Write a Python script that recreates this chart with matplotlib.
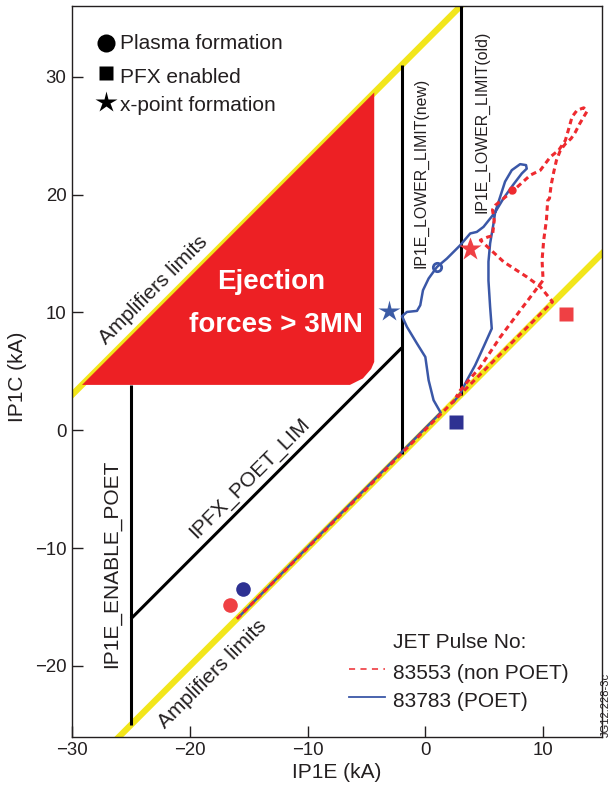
#!/usr/bin/env python3
"""Operating space of the PF amplifiers: IP1C vs IP1E, JET pulses 83553 / 83783."""
import matplotlib
matplotlib.use("Agg")
import matplotlib.pyplot as plt
from matplotlib import font_manager
from matplotlib.patches import Polygon

plt.rcParams['font.family'] = ['Liberation Sans', 'DejaVu Sans']

# --- data (kA) -------------------------------------------------------------
# 83783 (POET), blue solid trace
poet_x = [-15.8, 1.3, 0.7, 0.28, 0.0, -0.71, -1.56, -1.98, -1.56, -0.71, -0.43,
          -0.2, 0.28, 0.99, 1.83, 2.96, 3.81, 4.37, 4.94, 5.93, 6.35, 6.77, 7.34,
          8.05, 8.55, 8.61, 8.19, 7.48, 6.63, 5.93, 5.79, 5.5, 5.36, 5.36, 5.5,
          5.64, 4.94, 4.23, 3.53, 2.96, 2.4]
poet_y = [-15.8, 1.5, 2.55, 4.24, 6.22, 7.36, 8.77, 9.68, 10.04, 10.13, 10.61,
          11.88, 12.88, 13.86, 14.57, 15.7, 16.7, 16.83, 17.26, 18.5, 19.8, 21.1,
          22.07, 22.58, 22.5, 22.2, 21.79, 20.86, 19.67, 18.5, 17.55, 15.85,
          14.3, 12.7, 10.47, 8.63, 7.07, 5.52, 4.24, 3.11, 2.4]

# 83553 (non POET), red dashed trace
nonpoet_x = [-16.0, 10.8, 9.77, 8.64, 6.65, 4.67, 5.3, 5.7, 5.85, 5.7, 5.95, 7.5,
             8.92, 9.77, 10.62, 11.33, 11.89, 12.18, 12.46, 12.89, 13.45, 13.74,
             13.45, 13.1, 12.74, 12.38, 11.89, 11.47, 11.13, 10.9, 10.68, 10.54,
             10.39, 10.28, 10.05, 9.91, 10.0, 8.07, 6.37, 4.67, 3.68, 2.97, 2.6]
nonpoet_y = [-16.0, 10.9, 12.17, 13.0, 14.29, 16.13, 16.4, 16.5, 17.8, 18.7, 19.1,
             20.37, 21.65, 22.07, 23.2, 23.77, 24.6, 25.6, 26.6, 27.16, 27.36,
             27.08, 26.6, 26.0, 25.3, 24.76, 24.3, 23.77, 22.9, 21.9, 20.8, 19.67,
             19.5, 17.83, 16.13, 14.43, 12.73, 10.19, 7.92, 5.37, 4.24, 3.4, 2.8]

# events: plasma formation, PFX enabled, x-point formation
poet_events_x = [-15.44, 2.63, -3.12]
poet_events_y = [-13.44, 0.7, 10.13]
nonpoet_events_x = [-16.57, 11.95, 3.77]
nonpoet_events_y = [-14.86, 9.85, 15.34]

# limits
amp_lower_x = [-31, 16]
amp_lower_y = [-31, 16]
amp_upper_x = [-31, 4]
amp_upper_y = [2, 37]
ejection_x = [-29.15, -4.34, -4.34, -4.6, -5.3, -6.4]
ejection_y = [3.85, 28.66, 5.8, 5.2, 4.4, 3.85]
enable_poet_x = [-25, -25]
enable_poet_y = [-25, 3.85]
ipfx_lim_x = [-25, -2]
ipfx_lim_y = [-16, 7]
lower_new_x = [-2, -2]
lower_new_y = [-2, 31]
lower_old_x = [3, 3]
lower_old_y = [3, 36]

BLUE = '#3a57a7'
NAVY = '#2e3192'
RED = '#ee2a2f'
RED_MK = '#ef4044'
YELLOW = '#f2e61b'
BLACK = '#231f20'


def ejection_font():
    """Condensed bold if installed, otherwise plain bold at a smaller size."""
    names = {f.name for f in font_manager.fontManager.ttflist}
    if 'Liberation Sans Narrow' in names:
        return ['Liberation Sans Narrow'], 24
    return ['Liberation Sans'], 20


def main():
    fig = plt.figure(figsize=(6.12, 7.9), dpi=100)
    ax = fig.add_axes([72 / 612, 53.3 / 790, 530 / 612, 730.7 / 790])

    # amplifier limits (yellow)
    ax.plot(amp_lower_x, amp_lower_y, color=YELLOW, lw=4.5, solid_capstyle='butt', zorder=1)
    ax.plot(amp_upper_x, amp_upper_y, color=YELLOW, lw=4.5, solid_capstyle='butt', zorder=1)

    # ejection forces region
    ax.add_patch(Polygon(list(zip(ejection_x, ejection_y)), closed=True,
                         facecolor='#ed2024', edgecolor='none', zorder=2))
    fam, fs = ejection_font()
    ax.text(-13.05, 12.0, 'Ejection', color='white', fontsize=fs, fontweight='bold',
            family=fam, ha='center', va='baseline', zorder=3)
    ax.text(-12.7, 8.35, 'forces > 3MN', color='white', fontsize=fs, fontweight='bold',
            family=fam, ha='center', va='baseline', zorder=3)

    # black limit lines
    for xs, ys in [(enable_poet_x, enable_poet_y), (ipfx_lim_x, ipfx_lim_y),
                   (lower_new_x, lower_new_y), (lower_old_x, lower_old_y)]:
        ax.plot(xs, ys, color='black', lw=2.2, solid_capstyle='butt', zorder=3)

    # annotations
    ax.text(-23.1, 11.9, 'Amplifiers limits', fontsize=15, rotation=45,
            rotation_mode='anchor', ha='center', va='center', color=BLACK)
    ax.text(-18.1, -20.7, 'Amplifiers limits', fontsize=15, rotation=45,
            rotation_mode='anchor', ha='center', va='center', color=BLACK)
    ax.text(-14.9, -4.1, 'IPFX_POET_LIM', fontsize=15, rotation=45,
            rotation_mode='anchor', ha='center', va='center', color=BLACK)
    ax.text(-26.6, -11.3, 'IP1E_ENABLE_POET', fontsize=15, rotation=90,
            ha='center', va='center', color=BLACK)
    ax.text(-0.34, 21.8, 'IP1E_LOWER_LIMIT(new)', fontsize=11.4, rotation=90,
            ha='center', va='center', color=BLACK)
    ax.text(4.8, 26.2, 'IP1E_LOWER_LIMIT(old)', fontsize=11.4, rotation=90,
            ha='center', va='center', color=BLACK)

    # traces
    ax.plot(poet_x, poet_y, color=BLUE, lw=1.8, zorder=4)
    ax.plot(nonpoet_x, nonpoet_y, color=RED, lw=2.2, dashes=(1.8, 1.3), zorder=5)
    ax.plot([0.99], [13.86], 'o', ms=6, mfc='none', mec=BLUE, mew=2, zorder=6)
    ax.plot([7.37], [20.37], 'o', ms=5, color=RED, zorder=6)

    # event markers
    for mk, ms, i in [('o', 10.5, 0), ('s', 10, 1)]:
        ax.plot(poet_events_x[i], poet_events_y[i], mk, ms=ms, color=NAVY,
                mec='none', zorder=7)
        ax.plot(nonpoet_events_x[i], nonpoet_events_y[i], mk, ms=ms, color=RED_MK,
                mec='none', zorder=7)
    ax.plot(poet_events_x[2], poet_events_y[2], '*', ms=16, color='#3b5ba5',
            mec='none', zorder=7)
    ax.plot(nonpoet_events_x[2], nonpoet_events_y[2], '*', ms=17, color=RED_MK,
            mec='none', zorder=7)

    # marker key (top left)
    for mk, ms, y in [('o', 13, 32.88), ('s', 10, 30.33), ('*', 16, 27.87)]:
        ax.plot(-27.11, y, mk, ms=ms, color='black', mec='none')
    ax.text(-25.96, 32.32, 'Plasma formation', fontsize=15, va='baseline', color=BLACK)
    ax.text(-25.96, 29.43, 'PFX enabled', fontsize=15, va='baseline', color=BLACK)
    ax.text(-25.96, 27.08, 'x-point formation', fontsize=15, va='baseline', color=BLACK)

    # pulse key (bottom right)
    ax.text(-2.72, -18.45, 'JET Pulse No:', fontsize=15, va='baseline', color=BLACK)
    ax.plot([-6.46, -3.4], [-20.23, -20.23], color=RED, lw=1.1, dashes=(4, 3.5))
    ax.plot([-6.46, -3.4], [-22.64, -22.64], color=BLUE, lw=1.3)
    ax.text(-2.72, -21.08, '83553 (non POET)', fontsize=15, va='baseline', color=BLACK)
    ax.text(-2.72, -23.49, '83783 (POET)', fontsize=15, va='baseline', color=BLACK)

    # axes
    ax.set_xlim(-30, 15)
    ax.set_ylim(-26, 36)
    ax.set_xticks([-30, -20, -10, 0, 10])
    ax.set_yticks([-20, -10, 0, 10, 20, 30])
    ax.tick_params(direction='in', length=8, width=1, colors=BLACK,
                   labelsize=13.4, pad=4)
    for sp in ax.spines.values():
        sp.set_color(BLACK)
        sp.set_linewidth(1.0)

    fig.text(18 / 612, 1 - 377 / 790, 'IP1C (kA)', rotation=90, fontsize=15,
             ha='center', va='center', color=BLACK)
    fig.text(337 / 612, 1 - 773 / 790, 'IP1E (kA)', fontsize=15,
             ha='center', va='center', color=BLACK)
    fig.text(611 / 612, 1 - 737 / 790, 'JG12.228-3c', rotation=90, fontsize=8,
             ha='right', va='bottom', color=BLACK)

    fig.savefig('out.png', dpi=100)
    plt.close(fig)


if __name__ == '__main__':
    main()
